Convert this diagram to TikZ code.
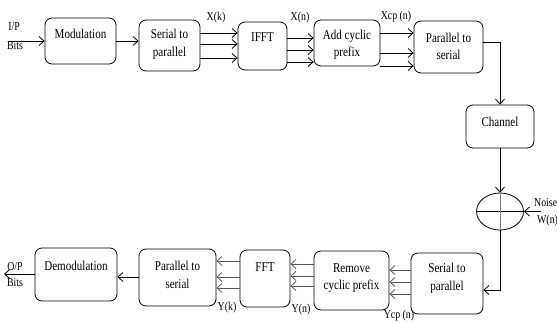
\documentclass[tikz,border=0pt]{standalone}
\usepackage{fontspec}
\setmainfont{Liberation Serif}[FakeStretch=0.82]
\usetikzlibrary{arrows.meta,shapes.geometric}

\begin{document}
\begin{tikzpicture}[x=1pt,y=-1pt,
    box/.style={draw, rounded corners=7, line width=0.8},
    txt/.style={align=center, inner sep=0, font=\fontsize{13.5}{17.5}\selectfont},
    lbl/.style={inner sep=0, font=\fontsize{12}{12}\selectfont},
    arr/.style={-{Straight Barb[length=5pt,width=9pt]}, line width=0.8},
    arrg/.style={arr, draw=black!65}]
    \useasboundingbox (0,0) rectangle (557,322);

    % transmitter
    \coordinate (in) at (8,41);
    \node[box, minimum width=71, minimum height=46] (mod) at (80.5,41) {};
    \node[box, minimum width=61, minimum height=51] (sp1) at (169.5,45.5) {};
    \node[box, minimum width=49, minimum height=48] (ifft) at (262.5,46) {};
    \node[box, minimum width=66, minimum height=46] (acp) at (347,43) {};
    \node[box, minimum width=69, minimum height=52] (ps1) at (448.5,47) {};
    \node[txt] (modt) at (80.5,34) {Modulation};
    \node[txt] (sp1t) at (169.5,44) {Serial to\\parallel};
    \node[txt] (ifftt) at (262.5,37) {IFFT};
    \node[txt] (acpt) at (347,45) {Add cyclic\\prefix};
    \node[txt] (ps1t) at (448.5,46.5) {Parallel to\\serial};

    % channel and noise
    \node[box, minimum width=68, minimum height=43] (ch) at (500,126.5) {};
    \node[txt] (cht) at (500,122) {Channel};
    \node[draw, ellipse, line width=0.8, minimum width=47, minimum height=37] (add) at (500,211.5) {};
    \draw[line width=1.3] (add.west) -- (add.east);
    \draw[black!50, line width=0.8] (add.north) -- (add.south);
    \coordinate (nz) at (541,211.5);

    % receiver
    \node[box, minimum width=72, minimum height=61] (sp2) at (447,283.5) {};
    \node[box, minimum width=75, minimum height=59] (rcp) at (351.5,280.5) {};
    \node[box, minimum width=50, minimum height=57] (fft) at (265,278.5) {};
    \node[box, minimum width=77, minimum height=57] (ps2) at (177.5,277.5) {};
    \node[box, minimum width=82, minimum height=53] (demod) at (76,274.5) {};
    \node[txt] (sp2t) at (447,278) {Serial to\\parallel};
    \node[txt] (rcpt) at (351.5,278) {Remove\\cyclic prefix};
    \node[txt] (fftt) at (265,267) {FFT};
    \node[txt] (ps2t) at (177.5,275) {Parallel to\\serial};
    \node[txt] (demodt) at (76,266) {Demodulation};
    \coordinate (out) at (4,274);

    % connectors
    \draw[arr] (in) -- (mod.west);
    \draw[arr] (mod.east) -- (sp1.west |- mod.east);
    \foreach \y in {33,44,58}
        \draw[arr] (sp1.east |- 0,\y) -- (ifft.west |- 0,\y);
    \foreach \y in {38,50,62}
        \draw[arr] (ifft.east |- 0,\y) -- (acp.west |- 0,\y);
    \foreach \y in {33,53,66}
        \draw[arr] (acp.east |- 0,\y) -- (ps1.west |- 0,\y);
    \draw[arr] (ps1.east |- 0,42) -| (ch.north);
    \draw[arr] (ch.south) -- (add.north);
    \draw[arr] (nz) -- (add.east);
    \draw[arr] (add.south) |- (sp2.east |- 0,290);
    \foreach \y in {270,282,294}
        \draw[arrg] (sp2.west |- 0,\y) -- (rcp.east |- 0,\y);
    \foreach \y in {264,276,286}
        \draw[arrg] (rcp.west |- 0,\y) -- (fft.east |- 0,\y);
    \foreach \y in {261,277,288}
        \draw[arrg] (fft.west |- 0,\y) -- (ps2.east |- 0,\y);
    \draw[arr] (ps2.west |- 0,277) -- (demod.east |- 0,277);
    \draw[arr] (demod.west |- 0,274) -- (out);

    % signal labels
    \node[lbl] (ip) at (14,27) {I/P};
    \node[lbl] (ipb) at (15,46) {Bits};
    \node[lbl] (xk) at (216,18) {X(k)};
    \node[lbl] (xn) at (300,18) {X(n)};
    \node[lbl] (xcp) at (396,17) {Xcp (n)};
    \node[lbl, anchor=west] (noise) at (534,203) {Noise};
    \node[lbl, anchor=west] (wn) at (537,221) {W(n)};
    \node[lbl] (ycp) at (399,316) {Ycp (n)};
    \node[lbl] (yn) at (301,310) {Y(n)};
    \node[lbl] (yk) at (227,308) {Y(k)};
    \node[lbl] (op) at (15,267) {O/P};
    \node[lbl] (opb) at (15,283) {Bits};
\end{tikzpicture}
\end{document}
